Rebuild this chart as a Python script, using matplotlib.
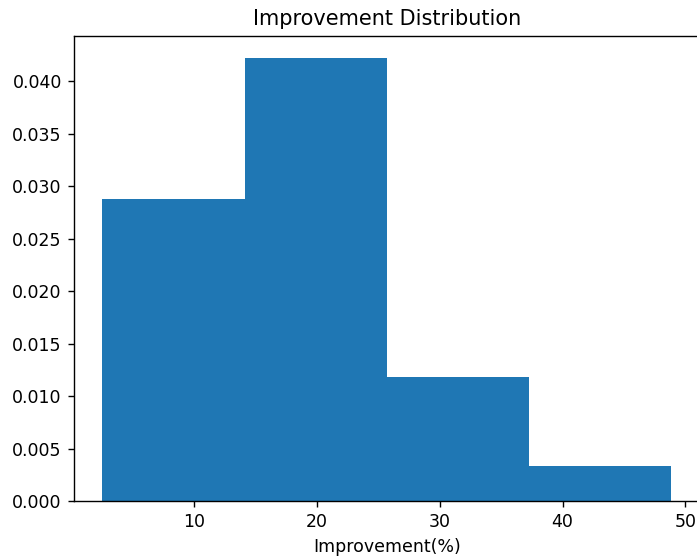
import matplotlib
matplotlib.use("Agg")
import matplotlib.pyplot as plt
import numpy as np

# Histogram bins (Improvement %) and density height of each bin
bin_edges = [2.51, 14.09, 25.67, 37.26, 48.84]
density = [0.02881, 0.04226, 0.01183, 0.00334]

title = "Improvement Distribution"
xlabel = "Improvement(%)"

W, H, DPI = 697, 559, 125
fig = plt.figure(figsize=(W / DPI, H / DPI), dpi=DPI)
left, right = 74 / W, 699.5 / W
bottom, top = (H - 501) / H, (H - 35.5) / H
ax = fig.add_axes([left, bottom, right - left, top - bottom])

centers = [(a + b) / 2 for a, b in zip(bin_edges[:-1], bin_edges[1:])]
ax.hist(centers, bins=bin_edges, weights=density, color="#1f77b4")

ax.set_title(title, fontsize=12)
ax.set_xlabel(xlabel)
ax.set_yticks(np.arange(0, 0.0401, 0.005))
ax.yaxis.set_major_formatter(matplotlib.ticker.FormatStrFormatter("%.3f"))

fig.savefig("out.png", dpi=DPI)
